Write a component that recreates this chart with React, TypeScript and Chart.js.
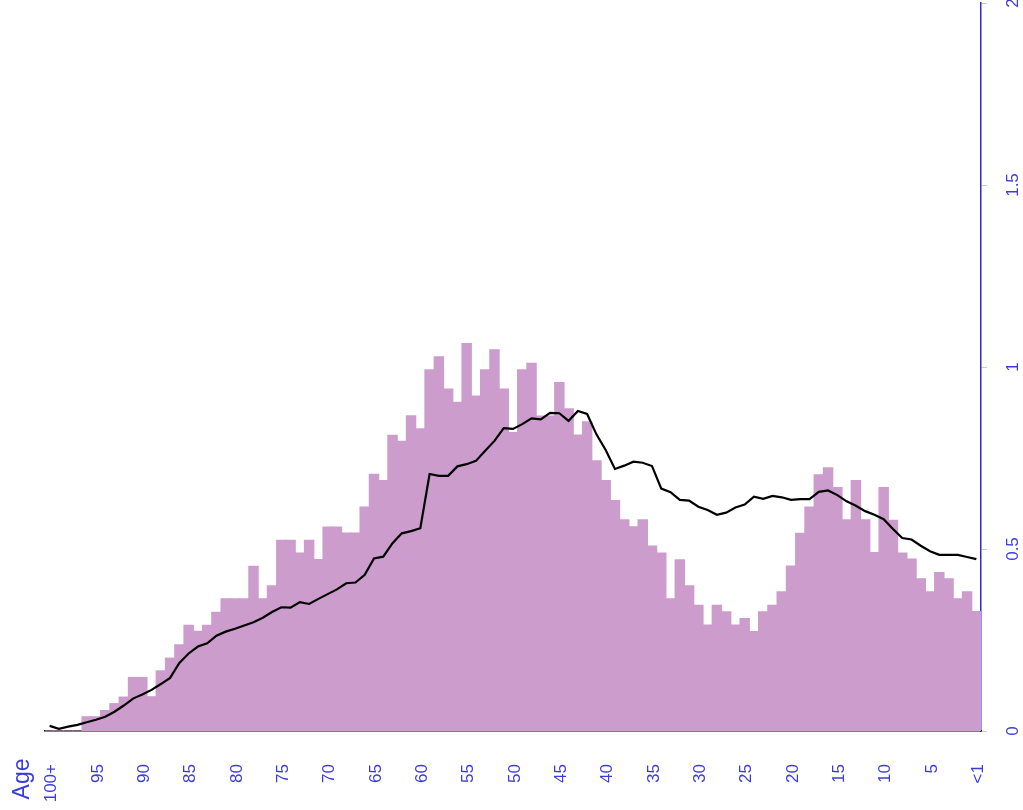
import React, { useEffect, useRef } from "react";
import { Chart, registerables } from "chart.js";

Chart.register(...registerables);

const ageLabels: string[] = [
  "100+", "99", "98", "97", "96", "95", "94", "93", "92", "91", "90", "89", "88", "87", "86", "85", "84", "83", "82", "81",
  "80", "79", "78", "77", "76", "75", "74", "73", "72", "71", "70", "69", "68", "67", "66", "65", "64", "63", "62", "61",
  "60", "59", "58", "57", "56", "55", "54", "53", "52", "51", "50", "49", "48", "47", "46", "45", "44", "43", "42", "41",
  "40", "39", "38", "37", "36", "35", "34", "33", "32", "31", "30", "29", "28", "27", "26", "25", "24", "23", "22", "21",
  "20", "19", "18", "17", "16", "15", "14", "13", "12", "11", "10", "9", "8", "7", "6", "5", "4", "3", "2", "1", "<1",
];

const barValues: number[] = [
  0, 0, 0, 0, 0.039, 0.039, 0.056, 0.075, 0.093, 0.147,
  0.147, 0.094, 0.165, 0.2, 0.237, 0.29, 0.274, 0.29, 0.326, 0.363,
  0.363, 0.363, 0.452, 0.363, 0.399, 0.524, 0.524, 0.489, 0.524, 0.471,
  0.56, 0.56, 0.544, 0.544, 0.615, 0.705, 0.688, 0.812, 0.796, 0.866,
  0.83, 0.992, 1.028, 0.939, 0.903, 1.064, 0.92, 0.992, 1.047, 0.939,
  0.82, 0.992, 1.01, 0.865, 0.865, 0.957, 0.885, 0.813, 0.849, 0.742,
  0.688, 0.633, 0.58, 0.561, 0.58, 0.508, 0.489, 0.363, 0.47, 0.399,
  0.345, 0.291, 0.345, 0.327, 0.291, 0.309, 0.273, 0.327, 0.345, 0.382,
  0.453, 0.543, 0.615, 0.704, 0.723, 0.669, 0.58, 0.688, 0.58, 0.49,
  0.669, 0.579, 0.489, 0.472, 0.418, 0.382, 0.435, 0.418, 0.363, 0.382,
  0.328,
];

const lineValues: number[] = [
  0.014, 0.006, 0.012, 0.017, 0.024, 0.031, 0.039, 0.053, 0.07, 0.089,
  0.1, 0.113, 0.129, 0.146, 0.187, 0.213, 0.232, 0.241, 0.262, 0.273,
  0.281, 0.29, 0.299, 0.311, 0.327, 0.34, 0.339, 0.354, 0.349, 0.363,
  0.376, 0.389, 0.406, 0.408, 0.429, 0.474, 0.479, 0.516, 0.543, 0.549,
  0.557, 0.706, 0.701, 0.701, 0.727, 0.733, 0.742, 0.77, 0.797, 0.832,
  0.83, 0.843, 0.859, 0.856, 0.874, 0.873, 0.852, 0.879, 0.871, 0.815,
  0.772, 0.72, 0.729, 0.74, 0.737, 0.728, 0.666, 0.656, 0.635, 0.633,
  0.616, 0.607, 0.594, 0.6, 0.614, 0.622, 0.644, 0.638, 0.646, 0.642,
  0.635, 0.637, 0.637, 0.657, 0.661, 0.648, 0.631, 0.619, 0.604, 0.594,
  0.582, 0.555, 0.53, 0.526, 0.509, 0.494, 0.484, 0.484, 0.484, 0.478,
  0.472,
];

const yTickValues: number[] = [0, 0.5, 1, 1.5, 2];
const yTickLabels: string[] = ["0", "0.5", "1", "1.5", "2"];
const axisTitle = "Age";

const FONT = "'Liberation Sans', Arial, Helvetica, sans-serif";
const BLUE_TEXT = "#3c3cdc";

export default function App() {
  const canvasRef = useRef<HTMLCanvasElement | null>(null);

  useEffect(() => {
    document.body.style.margin = "0";
    const canvas = canvasRef.current;
    if (!canvas) return;

    const labelPlugin = {
      id: "customLabels",
      afterDraw(chart: any) {
        const ctx = chart.ctx;
        const y = chart.scales.y;
        ctx.save();
        ctx.fillStyle = BLUE_TEXT;
        ctx.font = `17px ${FONT}`;
        ctx.textAlign = "center";
        ctx.textBaseline = "middle";
        yTickValues.forEach((v, i) => {
          const py = y.getPixelForValue(v);
          ctx.save();
          ctx.translate(1013, py);
          ctx.rotate(-Math.PI / 2);
          ctx.fillText(yTickLabels[i], 0, 0);
          ctx.restore();
        });
        ctx.save();
        ctx.font = `23px ${FONT}`;
        ctx.translate(23, 779);
        ctx.rotate(-Math.PI / 2);
        ctx.fillText(axisTitle, 0, 0);
        ctx.restore();
        ctx.restore();
      },
    };

    const chart = new Chart(canvas, {
      type: "bar",
      data: {
        labels: ageLabels,
        datasets: [
          {
            type: "line",
            data: lineValues,
            borderColor: "#000000",
            borderWidth: 2.2,
            pointRadius: 0,
            tension: 0,
            fill: false,
            order: 0,
          } as any,
          {
            type: "bar",
            data: barValues,
            backgroundColor: "#cc9ccc",
            borderWidth: 0,
            inflateAmount: 0.6,
            barPercentage: 1,
            categoryPercentage: 1,
            order: 1,
          } as any,
        ],
      },
      options: {
        responsive: false,
        animation: false,
        devicePixelRatio: 1,
        layout: { padding: { left: 45, top: 3, right: 0, bottom: 0 } },
        plugins: {
          legend: { display: false },
          tooltip: { enabled: false },
          title: { display: false },
        },
        scales: {
          x: {
            type: "category",
            offset: true,
            grid: { display: false, drawTicks: false },
            border: { display: true, color: "#000000", width: 1.5 },
            ticks: {
              autoSkip: false,
              minRotation: 90,
              maxRotation: 90,
              padding: 33,
              labelOffset: 2,
              color: BLUE_TEXT,
              font: { family: FONT, size: 17 },
              callback: (_v: any, i: number) => (i % 5 === 0 ? ageLabels[i] : ""),
            },
            afterFit: (scale: any) => {
              scale.height = 79;
              scale.paddingLeft = 0;
              scale.paddingRight = 0;
            },
          },
          y: {
            type: "linear",
            position: "right",
            min: 0,
            max: 2,
            ticks: { display: false, stepSize: 0.5 },
            grid: {
              drawOnChartArea: false,
              drawTicks: true,
              tickLength: 6,
              color: "#c4c4f0",
              lineWidth: 1,
            },
            border: { display: true, color: "#2a2ad8", width: 1.5 },
            afterFit: (scale: any) => {
              scale.width = 42;
              scale.paddingTop = 0;
              scale.paddingBottom = 0;
            },
          },
        },
      },
      plugins: [labelPlugin],
    });

    return () => {
      chart.destroy();
    };
  }, []);

  return (
    <div style={{ width: 1023, height: 810, background: "#ffffff" }}>
      <canvas ref={canvasRef} width={1023} height={810} style={{ display: "block" }} />
    </div>
  );
}
